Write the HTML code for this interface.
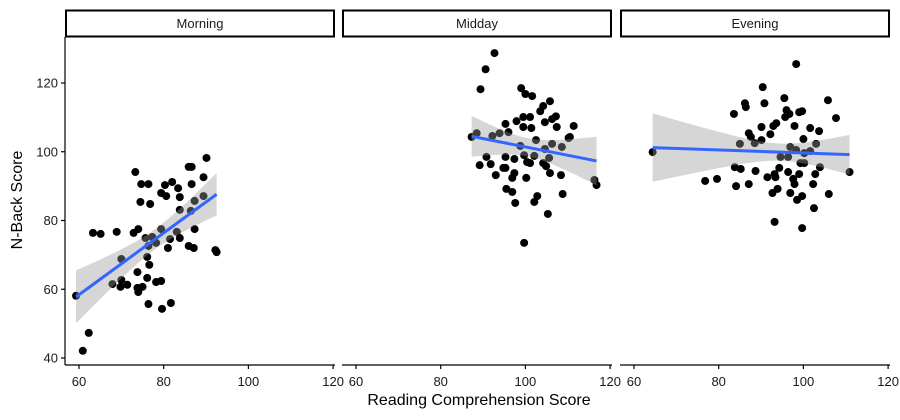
<!DOCTYPE html>
<html><head><meta charset="utf-8"><style>
body{margin:0;background:#fff;}
svg{display:block;font-family:"Liberation Sans",sans-serif;}
</style></head><body>
<svg id="chart" width="900" height="420"></svg>
<script>
const panels = ["Morning","Midday","Evening"];
const xTicks = [60,80,100,120];
const yTicks = [40,60,80,100,120];
const morningX = [90.1,86.6,85.9,73.3,74.7,76.4,80.3,82.0,83.4,86.6,89.4,79.4,80.6,83.8,74.5,76.8,87.3,89.4,83.8,86.4,63.3,65.1,68.9,72.9,74.0,79.4,83.1,87.3,75.7,77.3,81.5,83.8,76.4,78.2,81.0,85.9,87.1,92.2,92.5,70.0,76.1,76.6,73.8,70.0,71.4,69.8,76.1,78.2,79.4,67.9,73.8,75.0,74.0,59.3,76.4,81.7,79.6,62.3,60.9];
const morningY = [98.2,95.6,95.6,94.1,90.6,90.6,90.3,91.2,89.4,90.6,92.6,88.0,87.1,86.8,85.4,84.8,85.7,87.1,83.1,82.8,76.4,76.1,76.7,76.4,77.5,77.5,76.7,77.5,74.9,75.2,74.6,74.9,72.6,73.5,72.0,72.6,72.0,71.4,70.8,68.8,69.4,67.1,65.0,62.7,61.3,60.7,63.3,62.1,62.4,61.5,60.4,60.7,59.2,58.1,55.7,56.0,54.3,47.3,42.1];
const middayX = [92.7,90.6,89.4,99.0,100.0,101.6,105.8,104.2,103.5,97.9,99.5,101.1,107.2,104.6,106.3,95.3,107.4,111.4,99.5,101.4,96.0,93.9,92.2,88.5,87.3,102.5,110.2,110.5,106.3,108.6,98.8,104.6,99.7,102.1,105.6,90.8,95.3,97.4,100.4,101.1,104.2,89.2,91.8,104.9,95.3,94.8,105.8,93.0,108.4,97.4,96.9,100.2,116.3,116.8,95.5,96.9,102.8,102.1,108.8,97.6,105.3,99.7];
const middayY = [128.7,124.0,118.2,118.5,116.8,116.2,114.7,113.3,111.8,108.9,110.1,110.1,110.3,108.6,109.5,108.1,107.2,107.5,107.2,106.9,105.7,105.4,104.6,105.4,104.3,103.4,104.0,104.3,102.3,101.4,101.7,100.8,99.0,98.8,98.2,98.5,98.5,97.9,97.0,96.7,96.7,96.1,96.4,95.8,95.3,95.3,93.8,93.2,93.2,93.8,92.4,92.4,91.8,90.3,89.2,88.3,87.1,85.4,87.7,85.1,81.9,73.5];
const eveningX = [98.3,90.4,86.2,86.4,90.8,95.5,105.8,83.6,96.0,96.7,95.7,99.0,99.7,107.7,93.6,92.9,90.1,97.9,101.6,103.7,87.1,87.6,92.2,90.1,88.5,100.0,85.0,103.0,96.9,98.3,101.6,100.2,64.4,94.6,96.4,99.3,100.2,83.8,85.2,88.7,94.3,96.4,103.9,110.9,99.0,91.5,93.4,93.2,102.8,76.8,79.6,97.6,97.9,102.3,87.1,84.1,93.9,92.7,96.9,99.7,98.5,106.0,102.5,93.2,99.7];
const eveningY = [125.5,118.8,114.1,113.0,114.1,115.6,115.0,111.0,112.1,111.0,110.1,111.5,111.8,109.8,108.3,107.5,107.2,107.5,106.9,106.0,105.4,104.3,105.1,103.4,102.5,103.7,102.3,102.3,101.4,100.5,100.2,99.6,99.9,98.5,98.5,96.7,96.7,95.5,95.0,94.4,95.3,94.1,95.5,94.1,93.5,92.6,92.6,93.5,93.5,91.5,92.1,92.1,90.6,90.6,90.6,90.0,89.2,88.0,88.0,87.1,86.0,87.7,83.6,79.6,77.8];
const seriesX = [morningX, middayX, eveningX];
const seriesY = [morningY, middayY, eveningY];

const NS = "http://www.w3.org/2000/svg";
const svg = document.getElementById("chart");
function mk(tag, attrs, parent){const e=document.createElementNS(NS,tag);for(const k in attrs)e.setAttribute(k,attrs[k]);(parent||svg).appendChild(e);return e;}
const panelLefts = [65,342,620];
const PW = 270, TOP = 37, BOTTOM = 365;
function xScale(p, v){return panelLefts[p] + 14 + (v-60)*4.235;}
function yScale(v){return 358 - (v-40)*3.4375;}

panels.forEach((name, p) => {
  const L = panelLefts[p];
  const g = mk("g", {});
  
  
  const strip = mk("rect", {x:L+1, y:10.5, width:PW-2, height:26, fill:"#fff", stroke:"#000", "stroke-width":2}, g);
  
  
  const st = mk("text", {x:L+PW/2, y:28, "text-anchor":"middle", "font-size":13, fill:"#1a1a1a"}, g);
  st.textContent = name;
  
  

  const xs = seriesX[p], ys = seriesY[p], n = xs.length;
  const mx = xs.reduce((a,b)=>a+b,0)/n, my = ys.reduce((a,b)=>a+b,0)/n;
  let sxx=0, sxy=0;
  for(let i=0;i<n;i++){sxx+=(xs[i]-mx)**2;sxy+=(xs[i]-mx)*(ys[i]-my);}
  const b = sxy/sxx, a = my - b*mx;
  let sse=0; for(let i=0;i<n;i++) sse += (ys[i]-a-b*xs[i])**2;
  const s = Math.sqrt(sse/(n-2));
  const xmin = Math.min(...xs), xmax = Math.max(...xs);
  const up=[], lo=[];
  for(let k=0;k<=40;k++){
    const x = xmin + (xmax-xmin)*k/40;
    const se = s*Math.sqrt(1/n + (x-mx)**2/sxx)*2.0;
    const yh = a+b*x;
    up.push(xScale(p,x)+","+yScale(yh+se));
    lo.unshift(xScale(p,x)+","+yScale(yh-se));
  }
  for(let i=0;i<n;i++){
    const c = mk("circle", {cx:xScale(p,xs[i]), cy:yScale(ys[i]), r:4, fill:"#000"}, g);
    
    
  }
  const band = mk("polygon", {points: up.concat(lo).join(" "), fill:"#999", "fill-opacity":0.4}, g);
  
  
  const line = mk("line", {x1:xScale(p,xmin), y1:yScale(a+b*xmin), x2:xScale(p,xmax), y2:yScale(a+b*xmax), stroke:"#3366FF", "stroke-width":3}, g);
  
  

  const ax = mk("line", {x1:L, y1:BOTTOM, x2:L+PW, y2:BOTTOM, stroke:"#000", "stroke-width":1.2}, g);
  
  
  xTicks.forEach(t => {
    const x = xScale(p,t);
    mk("line", {x1:x, y1:BOTTOM, x2:x, y2:BOTTOM+4, stroke:"#000", "stroke-width":1.2}, g);
    const tl = mk("text", {x:x, y:386, "text-anchor":"middle", "font-size":13, fill:"#1a1a1a"}, g);
    tl.textContent = t;
    
    
  });
});

const yax = mk("line", {x1:65, y1:TOP, x2:65, y2:BOTTOM, stroke:"#000", "stroke-width":1.2});


yTicks.forEach(t => {
  const y = yScale(t);
  mk("line", {x1:61, y1:y, x2:65, y2:y, stroke:"#000", "stroke-width":1.2});
  const tl = mk("text", {x:58, y:y+4.5, "text-anchor":"end", "font-size":13, fill:"#1a1a1a"});
  tl.textContent = t;
  
  
});
const xt = mk("text", {x:479, y:405, "text-anchor":"middle", "font-size":16, fill:"#000"});
xt.textContent = "Reading Comprehension Score";


const yt = mk("text", {x:0, y:0, "text-anchor":"middle", "font-size":16, fill:"#000", transform:"translate(22,200) rotate(-90)"});
yt.textContent = "N-Back Score";


</script>
</body></html>
